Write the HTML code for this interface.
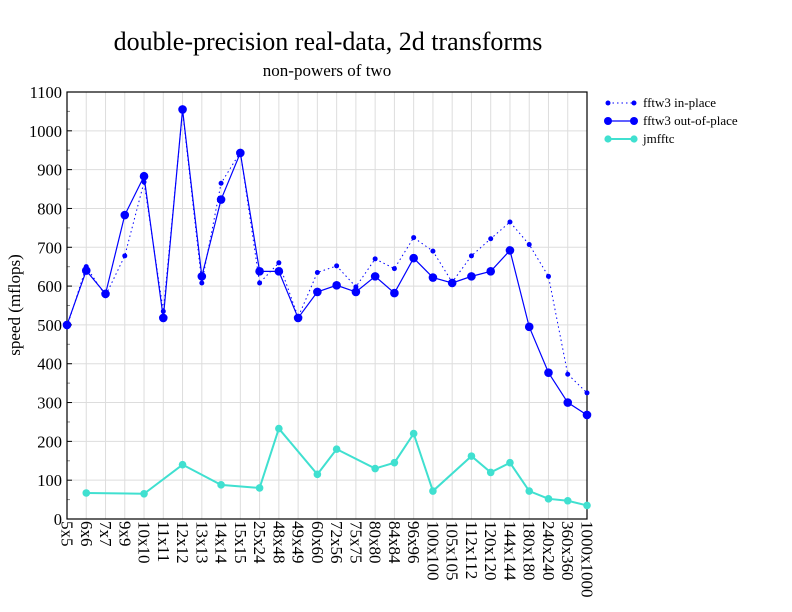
<!DOCTYPE html>
<html><head><meta charset="utf-8"><style>body{margin:0;background:#fff}svg{display:block}text{font-family:"Liberation Serif",serif;fill:#000}</style></head>
<body>
<svg id="s" width="792" height="612" xmlns="http://www.w3.org/2000/svg"></svg>
<script>
const L=67,R=587,T=92,B=519;
const labels="5x5 6x6 7x7 9x9 10x10 11x11 12x12 13x13 14x14 15x15 25x24 48x48 49x49 60x60 72x56 75x75 80x80 84x84 96x96 100x100 105x105 112x112 120x120 144x144 180x180 240x240 360x360 1000x1000".split(" ");
const n=labels.length,dx=(R-L)/(n-1);
const X=i=>L+i*dx,Y=v=>B-v*(B-T)/1100;
const inp=[495,650,575,678,868,535,1050,608,865,945,608,660,520,635,652,598,670,645,725,690,610,678,722,765,707,625,373,325];
const oop=[500,640,580,783,883,518,1055,625,823,943,638,638,518,585,602,585,625,582,672,622,608,625,638,692,495,377,300,268];
const jm=[[1,67],[4,65],[6,140],[8,88],[10,80],[11,233],[13,115],[14,180],[16,130],[17,145],[18,220],[19,72],[21,162],[22,120],[23,145],[24,72],[25,52],[26,47],[27,35]];
let s='';
for(let v=0;v<=1100;v+=100){s+=`<line x1="${L}" x2="${R}" y1="${Y(v)}" y2="${Y(v)}" stroke="#ddd"/>`;
s+=`<text x="${L-5}" y="${Y(v)+6}" font-size="16.5" text-anchor="end">${v}</text>`;
s+=`<line x1="${L}" x2="${L+5}" y1="${Y(v)}" y2="${Y(v)}" stroke="#000"/>`;
if(v<1100)s+=`<line x1="${L}" x2="${L+3}" y1="${Y(v+50)}" y2="${Y(v+50)}" stroke="#888"/>`;}
labels.forEach((l,i)=>{s+=`<line x1="${X(i)}" x2="${X(i)}" y1="${T}" y2="${B}" stroke="#ddd"/>`;
s+=`<text transform="translate(${X(i)-5.5},${B+2}) rotate(90)" font-size="17">${l}</text>`;});
s+=`<rect x="${L}" y="${T}" width="${R-L}" height="${B-T}" fill="none" stroke="#000" stroke-width="1.2"/>`;
const pts=a=>a.map((v,i)=>X(i)+','+Y(v)).join(' ');
s+=`<polyline points="${pts(inp)}" fill="none" stroke="#00f" stroke-width="1" stroke-dasharray="1.5,3"/>`;
inp.forEach((v,i)=>s+=`<circle cx="${X(i)}" cy="${Y(v)}" r="2.5" fill="#00f"/>`);
s+=`<polyline points="${pts(oop)}" fill="none" stroke="#00f" stroke-width="1.2"/>`;
oop.forEach((v,i)=>s+=`<circle cx="${X(i)}" cy="${Y(v)}" r="4.3" fill="#00f"/>`);
s+=`<polyline points="${jm.map(p=>X(p[0])+','+Y(p[1])).join(' ')}" fill="none" stroke="#40e0d0" stroke-width="2"/>`;
jm.forEach(p=>s+=`<circle cx="${X(p[0])}" cy="${Y(p[1])}" r="3.8" fill="#40e0d0"/>`);
s+=`<text x="328" y="50" font-size="26" text-anchor="middle">double-precision real-data, 2d transforms</text>`;
s+=`<text x="327" y="76" font-size="17" text-anchor="middle">non-powers of two</text>`;
s+=`<text transform="translate(20,305) rotate(-90)" font-size="17" text-anchor="middle">speed (mflops)</text>`;
s+=`<line x1="608" x2="634" y1="103" y2="103" stroke="#00f" stroke-dasharray="1.5,3"/><circle cx="608" cy="103" r="2.5" fill="#00f"/><circle cx="634" cy="103" r="2.5" fill="#00f"/><text x="643" y="107" font-size="13">fftw3 in-place</text>`;
s+=`<line x1="608" x2="634" y1="121" y2="121" stroke="#00f" stroke-width="1.2"/><circle cx="608" cy="121" r="4" fill="#00f"/><circle cx="634" cy="121" r="4" fill="#00f"/><text x="643" y="125" font-size="13">fftw3 out-of-place</text>`;
s+=`<line x1="608" x2="634" y1="139" y2="139" stroke="#40e0d0" stroke-width="2"/><circle cx="608" cy="139" r="3.6" fill="#40e0d0"/><circle cx="634" cy="139" r="3.6" fill="#40e0d0"/><text x="643" y="143" font-size="13">jmfftc</text>`;
document.getElementById('s').innerHTML=s;
</script>
</body></html>
